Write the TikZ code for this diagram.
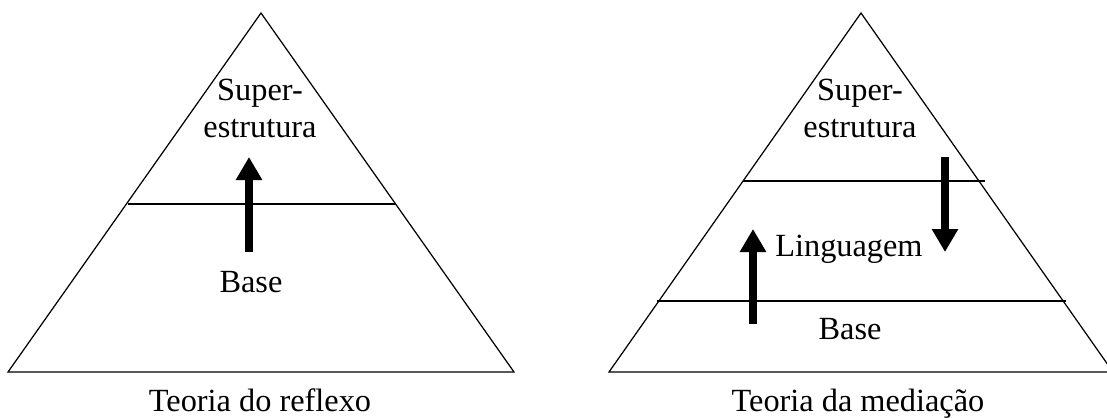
\documentclass[tikz,border=0pt]{standalone}
\usepackage{fontspec}
\setmainfont{Liberation Serif}
\usetikzlibrary{arrows.meta}

\begin{document}
\begin{tikzpicture}[
  x=0.02cm, y=-0.02cm,
  font=\fontsize{18.4}{21}\selectfont,
  every node/.style={align=center, inner sep=0pt},
  txt/.style={anchor=base},
  side/.style={draw=black, line width=0.7pt, line join=miter},
  layer/.style={draw=black, line width=0.7pt},
  flow/.style={-{Triangle[length=0.46cm, width=0.5cm]}, line width=0.16cm}
]
\useasboundingbox (0,0) rectangle (1107,417);
\clip (0,0) rectangle (1107,417);

% Left pyramid: reflection theory
\coordinate (LT) at (261,13);
\coordinate (LL) at (8,372);
\coordinate (LR) at (514,372);
\draw[side] (LT) -- (LL) -- (LR) -- cycle;
\coordinate (LmidW) at (128,204);
\coordinate (LmidE) at (396,204);
\draw[layer] (LmidW) -- (LmidE);

\node[txt] (Lsup) at (260,137) {Super-\\estrutura};
\node[txt] (Lbase) at (251,292) {Base};
\coordinate (LupS) at (249,252);
\coordinate (LupE) at (249,157);
\draw[flow] (LupS) -- (LupE);

\node[txt] (Lcap) at (260,411) {Teoria do reflexo};

% Right pyramid: mediation theory
\coordinate (RT) at (861,13);
\coordinate (RL) at (609,372);
\coordinate (RR) at (1113,372);
\draw[side] (RT) -- (RL) -- (RR) -- cycle;
\coordinate (RtopW) at (743,181);
\coordinate (RtopE) at (985,181);
\draw[layer] (RtopW) -- (RtopE);
\coordinate (RlowW) at (657,301);
\coordinate (RlowE) at (1066,301);
\draw[layer] (RlowW) -- (RlowE);

\node[txt] (Rsup) at (860,137) {Super-\\estrutura};
\node[txt] (Rling) at (849,256) {Linguagem};
\node[txt] (Rbase) at (850,339) {Base};

% up from the base, down from the superstructure
\coordinate (RupS) at (753,324);
\coordinate (RupE) at (753,229);
\draw[flow] (RupS) -- (RupE);
\coordinate (RdnS) at (945,157);
\coordinate (RdnE) at (945,252);
\draw[flow] (RdnS) -- (RdnE);

\node[txt] (Rcap) at (858,411) {Teoria da mediação};

\end{tikzpicture}
\end{document}
